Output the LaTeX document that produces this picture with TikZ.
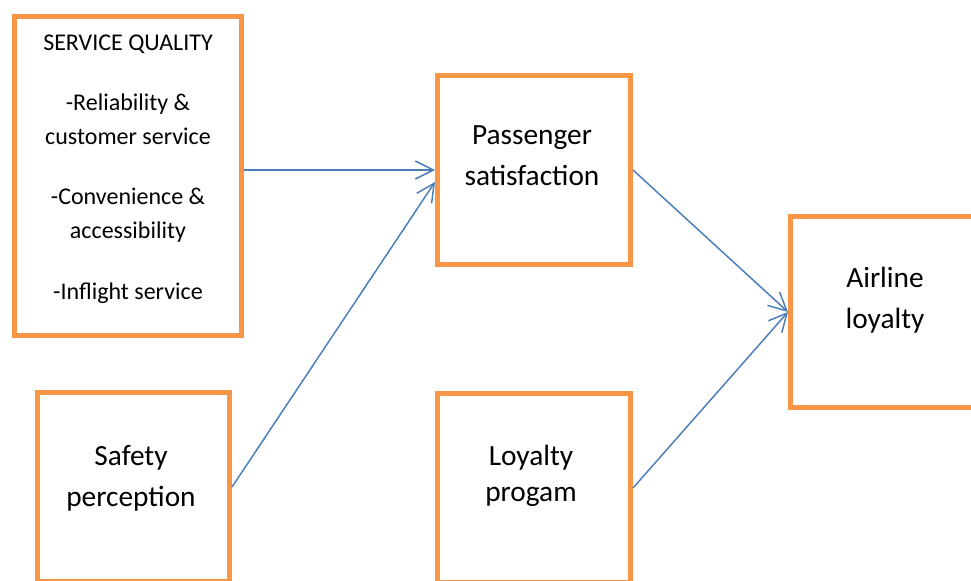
\documentclass[tikz,border=0pt]{standalone}
\usepackage{fontspec}
\setmainfont{Carlito}
\usetikzlibrary{arrows.meta,calc}
\definecolor{boxorange}{HTML}{F79646}
\definecolor{arrowblue}{HTML}{4A7EBB}
\tikzset{
	box/.style={draw=boxorange,line width=3.75pt,inner sep=0pt,
			minimum width=144.75pt,minimum height=141.75pt},
	boxtext/.style={anchor=north,align=center,inner sep=0pt,
			font=\fontsize{22}{30.75}\selectfont},
	link/.style={-{Straight Barb[length=13.5pt,width=13.5pt]},draw=arrowblue,line width=1.1pt}
}

\begin{document}
\begin{tikzpicture}[x=0.75pt,y=-0.75pt]
    \useasboundingbox (0,0) rectangle (971,581);
    % boxes
    \node[box,minimum width=170.6pt,minimum height=238.9pt] (sq) at (128.25,175.75) {};
    \node[box] (ps) at (534,170) {};
    \node[box,minimum width=144pt] (sp) at (133.5,487) {};
    \node[box] (lp) at (534,488) {};
    \node[box,minimum height=143.25pt] (al) at (887,312) {};
    % texts
    \node[boxtext,font=\fontsize{18}{25.5}\selectfont] (sqtext) at (128,35)
        {SERVICE QUALITY\\[19.5pt]-Reliability \&\\customer service\\[19.5pt]-Convenience \&\\accessibility\\[20pt]-Inflight service};
    \node[boxtext] (pstext) at (532,125) {Passenger\\satisfaction};
    \node[boxtext] (sptext) at (131,445) {Safety\\perception};
    \node[boxtext,font=\fontsize{22}{27}\selectfont] (lptext) at (531,445) {Loyalty\\progam};
    \node[boxtext] (altext) at (885,267) {Airline\\loyalty};
    % arrows
    \draw[link] (sq.east |- ps.west) -- (ps.west);
    \draw[link] (sp.east) -- ($(ps.west)+(0,12)$);
    \draw[link] (ps.east) -- (al.west);
    \draw[link] (lp.east) -- (al.west);
\end{tikzpicture}
\end{document}
